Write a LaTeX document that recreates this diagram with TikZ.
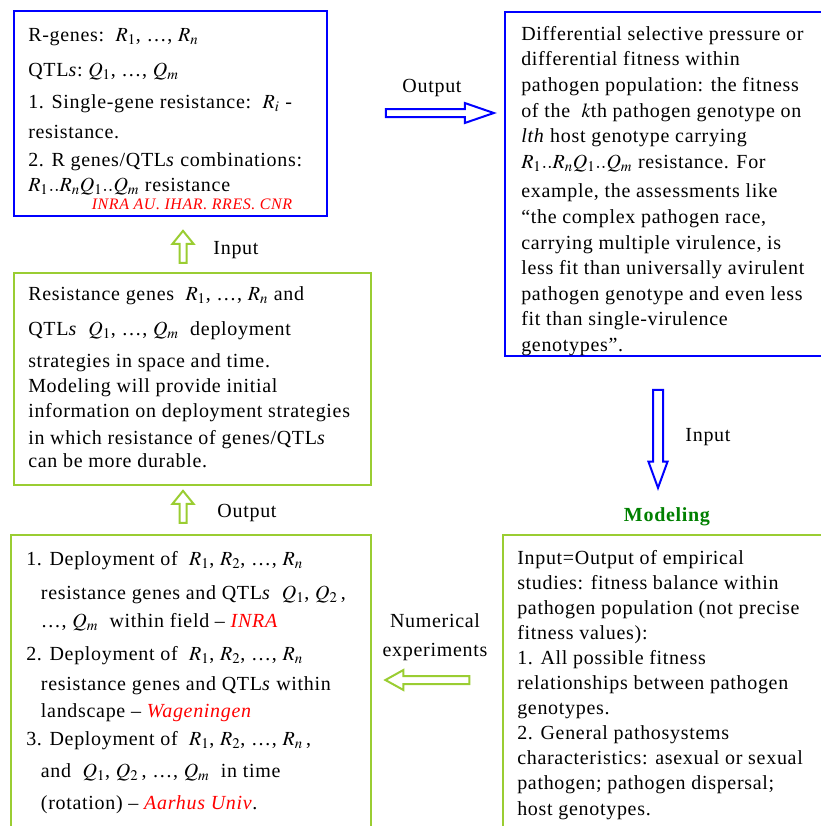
\documentclass[tikz,border=0pt]{standalone}
\usepackage{mathptmx}
\usepackage{fontspec}
\setmainfont[LetterSpace=3.5]{Liberation Serif}
\usetikzlibrary{shapes.arrows, positioning, fit, calc}
\definecolor{boxblue}{RGB}{0,0,255}
\definecolor{boxgreen}{RGB}{154,205,50}
\definecolor{modgreen}{RGB}{0,128,0}
\newcommand{\instname}[1]{\textcolor{red}{\textit{#1}}}

\begin{document}
\begin{tikzpicture}[
  x=0.75pt, y=-0.75pt,
  box/.style={draw, line width=1.9pt, inner sep=0pt},
  bluebox/.style={box, draw=boxblue},
  greenbox/.style={box, draw=boxgreen},
  txt/.style={anchor=north west, inner sep=0pt, align=left,
              font=\fontsize{15}{18.75}\selectfont},
  lbl/.style={inner sep=0pt, font=\fontsize{15}{18.75}\selectfont},
  blockarr/.style={single arrow, line width=1.5pt, inner sep=0pt,
                   single arrow head indent=0pt},
  bluearr/.style={blockarr, draw=boxblue},
  greenarr/.style={blockarr, draw=boxgreen}
]
\useasboundingbox (0,0) rectangle (821,826);

% Boxes
\node[bluebox, fit={(14,11) (327,216)}] (rgenes) {};
\node[greenbox, fit={(14,273) (371,485)}] (deploy) {};
\node[greenbox, fit={(11,535) (371,850)}] (numexp) {};
\node[bluebox, fit={(505,12) (850,356)}] (fitness) {};
\node[greenbox, fit={(503,535) (850,850)}] (model) {};

% Box texts
\node[txt] (rgtxt) at (28,28)
  {R-genes:\ \ $R_1$, \ldots, $R_n$\\[7.5pt]
   QTL\textit{s}:\ $Q_1$, \ldots, $Q_m$\\[5.25pt]
   1. Single-gene resistance:\ \ $R_i$ -\\[3.75pt]
   resistance.\\[2.25pt]
   2. R genes/QTL\textit{s} combinations:\\
   $R_1{..}R_nQ_1{..}Q_m$ resistance};
\node[lbl, font=\fontsize{12}{14}\selectfont\itshape, text=red]
  (rginst) at (192,204) {INRA AU. IHAR. RRES. CNR};

\node[txt] (dptxt) at (28,286)
  {Resistance genes\ \ $R_1$, \ldots, $R_n$ and\\[7.5pt]
   QTL\textit{s}\ \ $Q_1$, \ldots, $Q_m$\ \ deployment\\[5.25pt]
   strategies in space and time.\\
   Modeling will provide initial\\
   information on deployment strategies\\[1.5pt]
   in which resistance of genes/QTL\textit{s}\\[-1.5pt]
   can be more durable.};

\node[txt] (nxtxt) at (26,551)
  {1. Deployment of\ \ $R_1$,\ $R_2$, \ldots,\ $R_n$\\[6.75pt]
   \hspace*{11pt}resistance genes and QTL\textit{s}\ \ $Q_1$,\ $Q_2$\,,\\[2.25pt]
   \hspace*{11pt}\ldots,\ $Q_m$\ \ within field – \instname{INRA}\\[6pt]
   2. Deployment of\ \ $R_1$,\ $R_2$, \ldots,\ $R_n$\\[3.75pt]
   \hspace*{11pt}resistance genes and QTL\textit{s} within\\[1.5pt]
   \hspace*{11pt}landscape – \instname{Wageningen}\\[2.25pt]
   3. Deployment of\ \ $R_1$,\ $R_2$, \ldots,\ $R_n$\,,\\[5.25pt]
   \hspace*{11pt}and\ \ $Q_1$,\ $Q_2$\,, \ldots,\ $Q_m$\ \ in time\\[5.25pt]
   \hspace*{11pt}(rotation) – \instname{Aarhus Univ}.};

\node[txt, font=\fontsize{15}{19.2}\selectfont] (fttxt) at (521,26)
  {Differential selective pressure or\\
   differential fitness within\\
   pathogen population: the fitness\\
   of the\ \ $k$th pathogen genotype on\\
   \textit{lth} host genotype carrying\\
   $R_1{..}R_nQ_1{..}Q_m$ resistance. For\\[3pt]
   example, the assessments like\\
   “the complex pathogen race,\\
   carrying multiple virulence, is\\
   less fit than universally avirulent\\
   pathogen genotype and even less\\
   fit than single-virulence\\
   genotypes”.};

\node[lbl, font=\fontsize{15}{18}\selectfont\bfseries, text=modgreen]
  (modtitle) at (667,517) {Modeling};

\node[txt, font=\fontsize{15}{18.8}\selectfont] (mdtxt) at (517,550)
  {Input=Output of empirical\\
   studies: fitness balance within\\
   pathogen population (not precise\\
   fitness values):\\
   1. All possible fitness\\
   relationships between pathogen\\
   genotypes.\\
   2. General pathosystems\\
   characteristics: asexual or sexual\\
   pathogen; pathogen dispersal;\\
   host genotypes.};

% Block arrows
\node[bluearr, minimum height=81pt, inner ysep=2.25pt,
      single arrow head extend=4.5pt, single arrow tip angle=38]
  (outarr) at (434,113) {};
\node[bluearr, rotate=-90, minimum height=73.5pt, inner ysep=3pt,
      single arrow head extend=3.4pt, single arrow tip angle=40]
  (downarr) at (658,432) {};
\node[greenarr, rotate=90, minimum height=24pt, inner ysep=1.875pt,
      single arrow head extend=5.25pt, single arrow tip angle=78]
  (uparr1) at (183,249) {};
\node[greenarr, rotate=90, minimum height=24pt, inner ysep=1.875pt,
      single arrow head extend=5.25pt, single arrow tip angle=78]
  (uparr2) at (183,509) {};
\node[greenarr, rotate=180, minimum height=63pt, inner ysep=2.25pt,
      single arrow head extend=4.5pt, single arrow tip angle=58]
  (numarr) at (431,680) {};

% Arrow labels
\node[lbl] (outlbl) at (432,88) {Output};
\node[lbl] (downlbl) at (708,437) {Input};
\node[lbl] (up1lbl) at (236,250) {Input};
\node[lbl] (up2lbl) at (247,513) {Output};
\node[lbl, align=center] (numlbl) at (435,637) {Numerical\\[3pt]experiments};

\end{tikzpicture}
\end{document}
